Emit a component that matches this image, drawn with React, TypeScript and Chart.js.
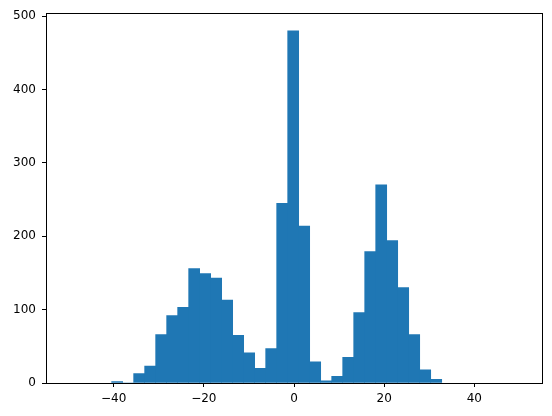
import React, { useEffect, useRef } from "react";
import { Chart, registerables } from "chart.js";

Chart.register(...registerables);

// Histogram bin edges (31 edges -> 30 bins)
const binEdges = [
  -40.44, -38.0, -35.56, -33.12, -30.68, -28.24, -25.8, -23.36, -20.92, -18.48,
  -16.04, -13.6, -11.16, -8.72, -6.28, -3.84, -1.4, 1.04, 3.48, 5.92,
  8.36, 10.8, 13.24, 15.68, 18.12, 20.56, 23.0, 25.44, 27.88, 30.32, 32.76,
];
// Counts per bin
const counts = [
  2, 0, 13, 23, 66, 92, 103, 156, 149, 143,
  113, 65, 41, 20, 47, 245, 480, 214, 29, 3,
  9, 35, 96, 179, 270, 194, 130, 66, 18, 5,
];
const xTicks = [-40, -20, 0, 20, 40];
const yTicks = [0, 100, 200, 300, 400, 500];
const xMin = -55;
const xMax = 55;
const yMax = 504;

const framePlugin = {
  id: "frame",
  afterDraw(chart: any) {
    const { ctx, chartArea: a } = chart;
    ctx.save();
    ctx.strokeStyle = "#000";
    ctx.lineWidth = 1;
    ctx.strokeRect(Math.round(a.left) + 0.5, Math.round(a.top) + 0.5, Math.round(a.right) - Math.round(a.left), Math.round(a.bottom) - Math.round(a.top));
    ctx.restore();
  },
};

const fmt = (v: any) => String(v).replace("-", "\u2212");

export default function App() {
  const ref = useRef<HTMLCanvasElement | null>(null);
  useEffect(() => {
    if (!ref.current) return;
    const points = counts.map((c, i) => ({ x: (binEdges[i] + binEdges[i + 1]) / 2, y: c }));
    const font = { family: "DejaVu Sans", size: 12 };
    const chart = new Chart(ref.current, {
      type: "bar",
      data: {
        datasets: [
          {
            data: points as any,
            backgroundColor: "#1f77b4",
            borderWidth: 0,
            barPercentage: 1,
            categoryPercentage: 1,
          },
        ],
      },
      options: {
        animation: false,
        responsive: false,
        layout: { padding: { top: 13, right: 10, left: 0, bottom: 0 } },
        plugins: { legend: { display: false }, tooltip: { enabled: false } },
        scales: {
          x: {
            type: "linear",
            min: xMin,
            max: xMax,
            offset: false,
            afterBuildTicks: (s: any) => {
              s.ticks = xTicks.map((v) => ({ value: v }));
            },
            afterFit: (s: any) => {
              s.height = 33;
            },
            ticks: { color: "#000", font, padding: 5, maxRotation: 0, autoSkip: false, callback: (v: any) => fmt(v) },
            grid: { display: true, offset: false, drawOnChartArea: false, drawTicks: true, tickLength: 4, tickColor: "#000" },
            border: { display: false },
          },
          y: {
            type: "linear",
            min: 0,
            max: yMax,
            afterBuildTicks: (s: any) => {
              s.ticks = yTicks.map((v) => ({ value: v }));
            },
            afterFit: (s: any) => {
              s.width = 46;
            },
            ticks: { color: "#000", font, padding: 6, autoSkip: false, callback: (v: any) => fmt(v) },
            grid: { display: true, offset: false, drawOnChartArea: false, drawTicks: true, tickLength: 4, tickColor: "#000" },
            border: { display: false },
          },
        },
      },
      plugins: [framePlugin],
    });
    return () => chart.destroy();
  }, []);
  return (
    <div style={{ position: "absolute", left: 0, top: 0, width: 552, height: 416, background: "#fff" }}>
      <canvas ref={ref} width={552} height={416} />
    </div>
  );
}
